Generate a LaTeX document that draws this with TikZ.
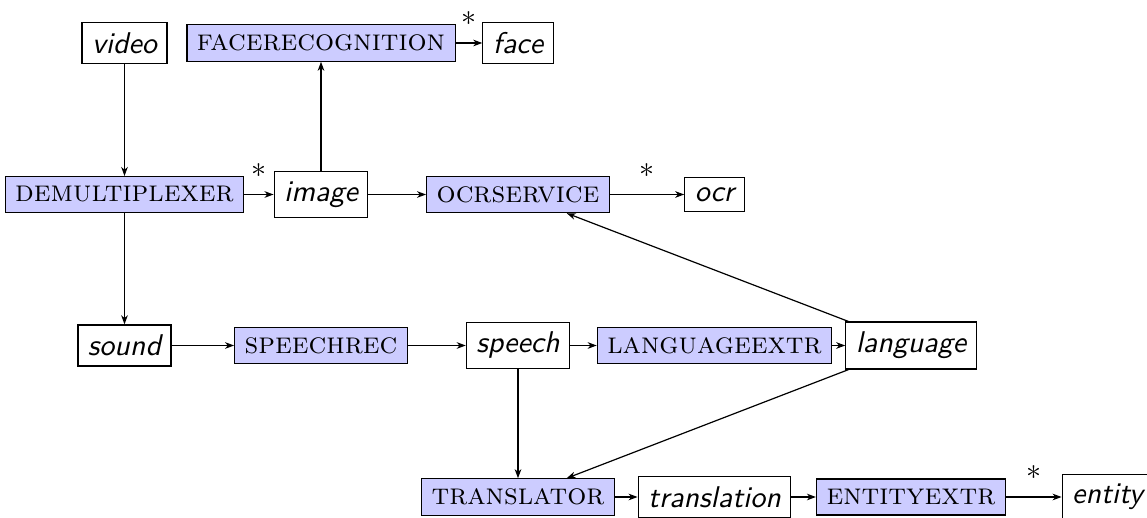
\documentclass[tikz,border=0pt]{standalone}
\usepackage{fontspec}
\usetikzlibrary{arrows.meta}
\begin{document}
\begin{tikzpicture}[x=0.3333pt, y=-0.3333pt,
  data/.style={draw, fill=white, font=\sffamily\itshape},
  proc/.style={draw, fill=blue!20, font=\scshape},
  flow/.style={-{Stealth[length=3pt,width=2.2pt,inset=0.9pt]}},
  star/.style={midway, yshift=8pt, inner sep=0pt}]
\useasboundingbox (0,0) rectangle (1147,518);
\clip (0,0) rectangle (1147,518);

% row 1
\node[data] (video)    at (124.5,43) {video};
\node[proc] (facerec)  at (321,43)   {facerecognition};
\node[data] (face)     at (518,43)   {face};
% row 2
\node[proc] (demux)    at (124.5,194.5) {demultiplexer};
\node[data] (image)    at (321,194.5)   {image};
\node[proc] (ocrsrv)   at (518,194.5)   {ocrservice};
\node[data] (ocr)      at (714.5,194.5) {ocr};
% row 3
\node[data] (sound)    at (124.5,345.5) {sound};
\node[proc] (speechrec) at (321,345.5)  {speechrec};
\node[data] (speech)   at (518,345.5)   {speech};
\node[proc] (langextr) at (714.5,345.5) {languageextr};
\node[data] (language) at (911,345.5)   {language};
% row 4
\node[proc] (translator)  at (518,497)   {translator};
\node[data] (translation) at (714.5,497) {translation};
\node[proc] (entextr)     at (911,497)   {entityextr};
\node[data] (entity)      at (1107.5,497) {entity};

% connectors
\draw[flow] (video) -- (demux);
\draw[flow] (demux) -- (image) node[star] {$*$};
\draw[flow] (image) -- (facerec);
\draw[flow] (facerec) -- (face) node[star] {$*$};
\draw[flow] (image) -- (ocrsrv);
\draw[flow] (ocrsrv) -- (ocr) node[star] {$*$};
\draw[flow] (demux) -- (sound);
\draw[flow] (sound) -- (speechrec);
\draw[flow] (speechrec) -- (speech);
\draw[flow] (speech) -- (langextr);
\draw[flow] (langextr) -- (language);
\draw[flow] (language) -- (ocrsrv);
\draw[flow] (language) -- (translator);
\draw[flow] (speech) -- (speech |- translator.north);
\draw[flow] (translator) -- (translation);
\draw[flow] (translation) -- (entextr);
\draw[flow] (entextr) -- (entity) node[star] {$*$};
\end{tikzpicture}
\end{document}
